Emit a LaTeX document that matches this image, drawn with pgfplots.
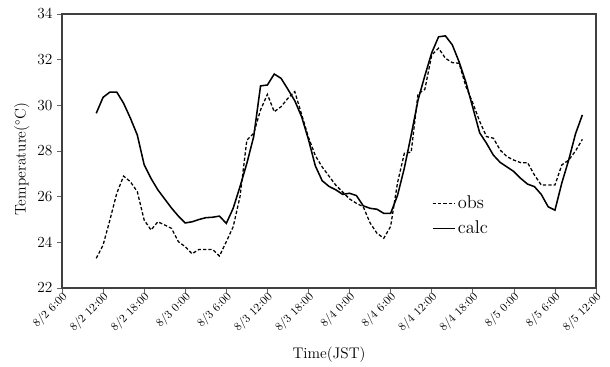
\documentclass[border=0pt]{standalone}
\usepackage{pgfplots}
\pgfplotsset{compat=1.18}
\begin{document}
\begin{tikzpicture}
\begin{axis}[
  scale only axis,
  width=417pt, height=214pt,
  xmin=6, xmax=84, ymin=22, ymax=34,
  xtick={6,12,18,24,30,36,42,48,54,60,66,72,78,84},
  xticklabels={8/2 6:00,8/2 12:00,8/2 18:00,8/3 0:00,8/3 6:00,8/3 12:00,8/3 18:00,8/4 0:00,8/4 6:00,8/4 12:00,8/4 18:00,8/5 0:00,8/5 6:00,8/5 12:00},
  x tick label style={rotate=45, anchor=east, font=\small, inner sep=1pt, yshift=-3pt, xshift=2pt},
  y tick label style={font=\large},
  ytick={22,24,...,34},
  tick align=outside,
  tick pos=left,
  major tick length=4pt,
  tick style={black!60, line width=0.5pt},
  axis line style={black!75, line width=1.1pt},
  xlabel={Time(JST)},
  ylabel={Temperature($^{\circ}$C)},
  xlabel style={at={(axis description cs:0.5,-0.243)}, anchor=center, font=\large},
  ylabel style={at={(axis description cs:-0.0753,0.47)}, anchor=center, font=\large},
  legend style={at={(0.685,0.263)}, anchor=west, draw=none, fill=none, font=\Large, row sep=4pt},
  legend cell align=left,
]
\addplot[black, line width=1pt, dash pattern=on 2.6pt off 1.6pt] coordinates {
(11,23.3)(12,23.88)(13,24.98)(14,26.15)(15,26.9)(16,26.65)(17,26.22)(18,24.98)(19,24.54)(20,24.9)
(21,24.76)(22,24.61)(23,24.03)(24,23.81)(25,23.5)(26,23.69)(27,23.69)(28,23.69)(29,23.4)(30,24.03)
(31,24.68)(32,26.0)(33,28.48)(34,28.77)(35,29.8)(36,30.48)(37,29.72)(38,29.94)(39,30.31)(40,30.6)
(41,29.6)(42,28.6)(43,27.8)(44,27.3)(45,26.9)(46,26.5)(47,26.2)(48,25.9)(49,25.71)(50,25.56)
(51,24.85)(52,24.4)(53,24.18)(54,24.7)(55,26.6)(56,27.9)(57,27.95)(58,30.5)(59,30.7)(60,32.2)
(61,32.5)(62,32.06)(63,31.87)(64,31.84)(65,30.82)(66,30.1)(67,29.3)(68,28.63)(69,28.56)(70,28.04)
(71,27.75)(72,27.6)(73,27.49)(74,27.49)(75,26.95)(76,26.51)(77,26.51)(78,26.51)(79,27.39)(80,27.6)
(81,28.0)(82,28.51)
};
\addlegendentry{obs}
\addplot[black, line width=1.2pt] coordinates {
(11,29.65)(12,30.35)(13,30.58)(14,30.58)(15,30.09)(16,29.43)(17,28.7)(18,27.4)(19,26.8)(20,26.3)
(21,25.9)(22,25.5)(23,25.15)(24,24.85)(25,24.9)(26,25.0)(27,25.08)(28,25.1)(29,25.15)(30,24.83)
(31,25.49)(32,26.44)(33,27.46)(34,28.63)(35,30.85)(36,30.89)(37,31.37)(38,31.18)(39,30.7)(40,30.2)
(41,29.5)(42,28.5)(43,27.35)(44,26.7)(45,26.45)(46,26.3)(47,26.1)(48,26.15)(49,26.05)(50,25.6)
(51,25.49)(52,25.45)(53,25.27)(54,25.27)(55,26.05)(56,27.25)(57,28.7)(58,30.23)(59,31.3)(60,32.3)
(61,33.0)(62,33.04)(63,32.65)(64,31.9)(65,31.0)(66,29.9)(67,28.8)(68,28.34)(69,27.82)(70,27.5)
(71,27.3)(72,27.1)(73,26.8)(74,26.55)(75,26.44)(76,26.1)(77,25.56)(78,25.41)(79,26.6)(80,27.6)
(81,28.75)(82,29.58)
};
\addlegendentry{calc}
\end{axis}
\path (current axis.south west) ++(-48.4pt,-58.6pt) coordinate (bbA);
\path (current axis.north east) ++(10.9pt,10.9pt) coordinate (bbB);
\path[use as bounding box] (bbA) rectangle (bbB);
\end{tikzpicture}
\end{document}
